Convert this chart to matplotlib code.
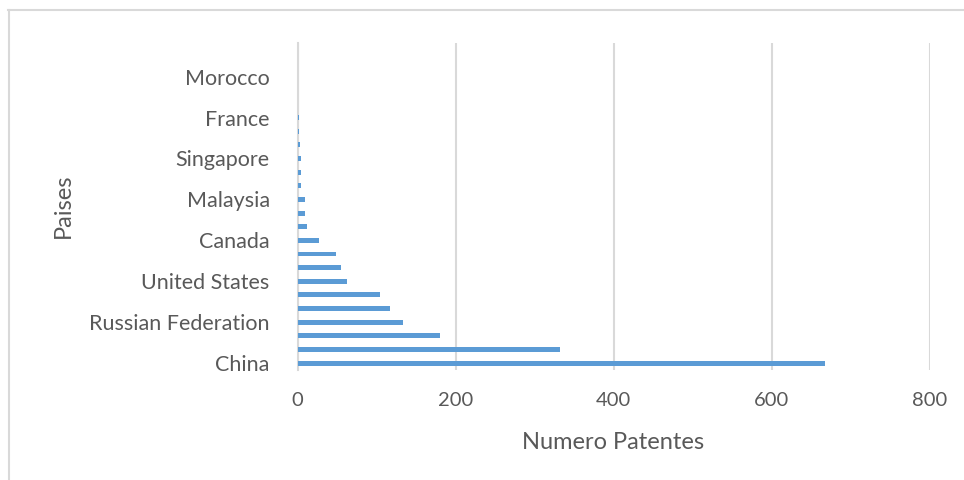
import matplotlib.pyplot as plt
from matplotlib.lines import Line2D

# datos (de abajo hacia arriba)
paises = ["China", "Republic of Korea", "Japan", "Russian Federation", "Germany",
          "Taiwan", "United States", "United Kingdom", "Ukraine", "Canada",
          "Australia", "India", "Malaysia", "Brazil", "Spain", "Singapore",
          "Italy", "Israel", "France", "Switzerland", "Netherlands", "Morocco",
          "Sweden", "Austria"]
patentes = [668, 332, 180, 133, 117, 104, 63, 55, 49, 27,
            12, 10, 10, 5, 4, 4, 3, 2, 2, 1, 0, 0, 0, 0]

plt.rcParams['font.family'] = ['Lato', 'DejaVu Sans']
gris = '#595959'
linea = '#d9d9d9'

fig = plt.figure(figsize=(9.64, 4.8), dpi=100)
ax = fig.add_axes([297.5 / 964, 110 / 480, 632 / 964, 327.5 / 480])

pos = list(range(len(paises)))
ax.barh(pos, patentes, height=0.36, color='#5b9bd5', zorder=3)

ax.set_xlim(0, 800)
ax.set_ylim(-0.5, len(paises) - 0.5)
ax.set_xticks([0, 200, 400, 600, 800])
ax.set_yticks(pos[::3])
ax.set_yticklabels(paises[::3])
ax.grid(axis='x', color=linea, linewidth=1.5, zorder=0)
for s in ['top', 'right', 'bottom']:
    ax.spines[s].set_visible(False)
ax.spines['left'].set_color(linea)
ax.spines['left'].set_linewidth(1.5)
ax.tick_params(length=0, colors=gris)
ax.tick_params(axis='x', pad=16, labelsize=14.5)
ax.tick_params(axis='y', pad=20, labelsize=15.5)

ax.set_xlabel('Numero Patentes', fontsize=17, color=gris)
ax.set_ylabel('Paises', fontsize=17, color=gris)
ax.xaxis.set_label_coords(0.5, -0.19)
ax.yaxis.set_label_coords(-0.354, 0.5)

# marco del grafico
fig.add_artist(Line2D([8.5 / 964, 8.5 / 964], [0, 470 / 480], color=linea, lw=1.5))
fig.add_artist(Line2D([8 / 964, 1], [470 / 480, 470 / 480], color=linea, lw=1.5))

fig.savefig('out.png', dpi=100)
